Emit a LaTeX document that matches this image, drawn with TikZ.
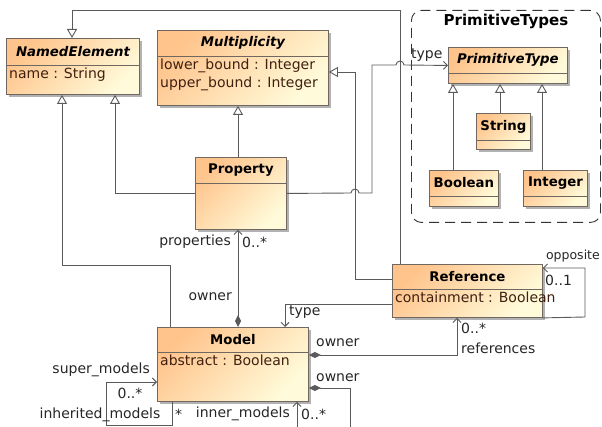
\documentclass[tikz,border=0pt]{standalone}
\usepackage{fontspec}
\setmainfont{DejaVu Sans}
\usetikzlibrary{calc}
\usetikzlibrary{arrows.meta}
\usetikzlibrary{shadows}
\definecolor{umlorange}{RGB}{255,196,140}
\definecolor{umlyellow}{RGB}{255,251,218}
\definecolor{boxline}{RGB}{112,104,96}
\definecolor{attrbrown}{RGB}{64,32,16}
\definecolor{wirecol}{RGB}{90,90,90}
\tikzstyle{classbox}=[draw=boxline, line width=0.9pt, top color=umlorange, bottom color=umlyellow, shading angle=45, drop shadow={shadow xshift=2.5pt, shadow yshift=-2.5pt, fill=black, opacity=0.3}, anchor=north west, inner sep=0pt]
\tikzstyle{classtitle}=[font=\fontsize{13.3}{16}\selectfont\bfseries, inner sep=0pt]
\tikzstyle{attrtext}=[anchor=north west, align=left, font=\fontsize{14}{18}\selectfont, text=attrbrown, inner xsep=3pt, inner ysep=3pt]
\tikzstyle{rolelabel}=[font=\fontsize{14}{16}\selectfont, inner sep=0pt, text=black!85]
\tikzstyle{wire}=[draw=wirecol, line width=0.9pt]
\tikzstyle{gen}=[wire, -{Triangle[fill=white, length=9pt, width=10pt]}]
\tikzstyle{nav}=[wire, -{Straight Barb[length=4pt, width=8pt]}]
\tikzstyle{comp}=[wire, {Diamond[length=12pt, width=6pt]}-{Straight Barb[length=4pt, width=8pt]}]
\tikzstyle{package}=[draw=black!80, line width=0.9pt, dash pattern=on 10pt off 6pt, rounded corners=10pt, anchor=north west, inner sep=0pt]
% Syntax: {name}{(top left)}{width}{height}{header height}{title}{attributes}
\newcommand{\umlclass}[7]{
  \node[classbox, minimum width=#3pt, minimum height=#4pt] (#1) at #2 {};
  \draw[boxline, line width=0.9pt] ($(#1.north west)+(0,#5)$) -- ($(#1.north east)+(0,#5)$);
  \node[classtitle] (#1-title) at ($(#1.north)+(0,#5/2)$) {#6};
  \node[attrtext] (#1-attr) at ($(#1.north west)+(0,#5)$) {#7};
}

\begin{document}
\begin{tikzpicture}[x=1pt, y=-1pt]
\useasboundingbox (0,0) rectangle (602,427);
\clip (0,0) rectangle (602,427);
% package
\node[package, minimum width=189pt, minimum height=212pt] (pkg) at (411,10) {};
\node[font=\fontsize{15}{17}\selectfont\bfseries, inner sep=0pt] (pkg-title) at ($(pkg.north)+(0,11)$) {PrimitiveTypes};
% classes
\umlclass{ne}{(6,38)}{133}{56}{27}{\itshape NamedElement}{name : String}
\umlclass{mult}{(157,30)}{171}{75}{26}{\itshape Multiplicity}{lower\_bound : Integer\\upper\_bound : Integer}
\umlclass{prop}{(195,157)}{91}{72}{26}{Property}{}
\umlclass{model}{(157,327)}{151}{74}{25}{Model}{abstract : Boolean}
\umlclass{ref}{(392,264)}{150}{53}{25}{Reference}{containment : Boolean}
\umlclass{prim}{(448,47)}{119}{36}{26}{\itshape PrimitiveType}{}
\umlclass{str}{(476,113)}{54}{36}{27}{String}{}
\umlclass{bool}{(429,170)}{69}{36}{26}{Boolean}{}
\umlclass{int}{(523,170)}{64}{36}{26}{Integer}{}
% generalizations
\draw[gen] (prop.west) -| ($(ne.south west)+(109,0)$);
\draw[gen] ($(model.north west)+(13,0)$) -- ++(0,-62) -| ($(ne.south west)+(56,0)$);
\draw[gen] ($(ref.north west)+(8,0)$) |- ($(ne.north west)+(66,-28)$) -- ($(ne.north west)+(66,0)$);
\draw[gen] ($(prop.north west)+(43,0)$) -- ($(mult.south west)+(81,0)$);
\draw[gen] ($(ref.north west)+(0,15)$) -- ++(-37,0) |- ($(mult.north east)+(0,42)$);
\draw[gen] ($(bool.north west)+(24,0)$) -- ($(prim.south west)+(5,0)$);
\draw[gen] ($(str.north west)+(24,0)$) -- ($(prim.south west)+(52,0)$);
\draw[gen] ($(int.north west)+(19,0)$) -- ($(prim.south west)+(94,0)$);
% associations
\draw[nav] (prop.east) -- (351,193) arc (180:360:4) -- (372,193) -- (372,65) -- (396,65) arc (180:360:4) -- (prim.west);
\node[rolelabel, anchor=west] (l-type1) at (411,55) {type};
\draw[comp] ($(model.north west)+(81,0)$) -- ($(prop.south west)+(43,0)$);
\node[rolelabel, anchor=east] (l-props) at (231,242) {properties};
\node[rolelabel, anchor=west] (l-props-m) at (242,242) {0..*};
\node[rolelabel, anchor=east] (l-owner1) at (232,297) {owner};
\draw[nav] ($(ref.north west)+(0,40)$) -| ($(model.north west)+(128,0)$);
\node[rolelabel, anchor=west] (l-type2) at (289,312) {type};
\draw[comp] ($(model.north east)+(0,28)$) -| ($(ref.south west)+(65,0)$);
\node[rolelabel, anchor=west] (l-owner2) at (316,343) {owner};
\node[rolelabel, anchor=west] (l-refs-m) at (461,328) {0..*};
\node[rolelabel, anchor=west] (l-refs) at (461,348) {references};
\draw[comp] ($(model.north east)+(0,61)$) -- (350,388) -- (350,432) -- (297,432) -- ($(model.south west)+(140,0)$);
\node[rolelabel, anchor=west] (l-owner3) at (316,378) {owner};
\node[rolelabel, anchor=west] (l-inner-m) at (301,414) {0..*};
\node[rolelabel, anchor=east] (l-inner) at (290,414) {inner\_models};
\node[rolelabel, anchor=west] (l-inh-m) at (175,414) {*};
\draw[nav] ($(model.south west)+(15,0)$) -- (172,425) -- (106,425) -- (106,382) -- ($(model.north west)+(0,55)$);
\node[rolelabel, anchor=east] (l-super) at (150,370) {super\_models};
\node[rolelabel] (l-super-m) at (130,393) {0..*};
\node[rolelabel] (l-inh) at (100,415) {inherited\_models};
\draw[nav] (ref.south east) -- (585,317) -- (585,268) -- ($(ref.north east)+(0,4)$);
\node[rolelabel, anchor=east, font=\fontsize{12.5}{15}\selectfont] (l-opp) at (600,256) {opposite};
\node[rolelabel, anchor=west] (l-opp-m) at (545,280) {0..1};
\end{tikzpicture}
\end{document}
